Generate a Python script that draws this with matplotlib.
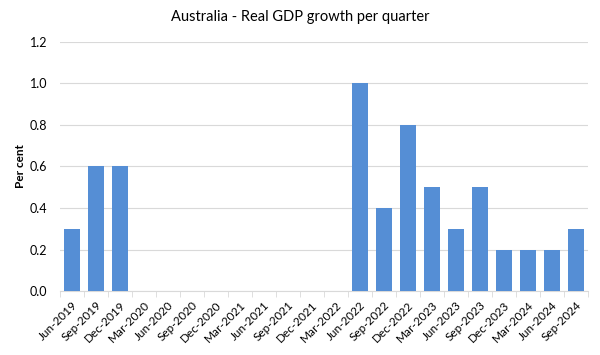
import numpy as np
import matplotlib.pyplot as plt

quarters = ["Jun-2019", "Sep-2019", "Dec-2019", "Mar-2020", "Jun-2020", "Sep-2020",
            "Dec-2020", "Mar-2021", "Jun-2021", "Sep-2021", "Dec-2021", "Mar-2022",
            "Jun-2022", "Sep-2022", "Dec-2022", "Mar-2023", "Jun-2023", "Sep-2023",
            "Dec-2023", "Mar-2024", "Jun-2024", "Sep-2024"]
# pandemic quarters are left blank in the source chart
growth = [0.3, 0.6, 0.6, None, None, None, None, None, None, None, None, None,
          1.0, 0.4, 0.8, 0.5, 0.3, 0.5, 0.2, 0.2, 0.2, 0.3]
yticks = [0.0, 0.2, 0.4, 0.6, 0.8, 1.0, 1.2]

plt.rcParams["font.family"] = ["Lato", "DejaVu Sans"]

fig = plt.figure(figsize=(6, 3.55), dpi=100)
ax = fig.add_axes([0.1, 0.18, 0.88, 0.702])

x = np.arange(len(quarters))
h = np.array([np.nan if v is None else v for v in growth], float)
ax.bar(x, np.nan_to_num(h), width=0.66, color="#558ED5", zorder=3)

ax.set_xlim(-0.5, len(quarters) - 0.5)
ax.set_ylim(0, 1.2)
ax.set_yticks(yticks)
ax.set_yticklabels([f"{v:.1f}" for v in yticks], fontsize=9)
ax.grid(axis="y", color="#d9d9d9", lw=0.8, zorder=0)

ax.set_xticks(x)
ax.set_xticklabels(quarters, rotation=45, ha="right", rotation_mode="anchor", fontsize=8.5)
ax.set_xticks(np.arange(-0.5, len(quarters)), minor=True)
ax.tick_params(axis="x", which="major", length=0, pad=6)
ax.tick_params(axis="x", which="minor", length=4, color="#d9d9d9")
ax.tick_params(axis="y", length=0, pad=9)

for s in ["top", "right", "left"]:
    ax.spines[s].set_visible(False)
ax.spines["bottom"].set_color("#d9d9d9")

ax.set_ylabel("Per cent", fontsize=8.5, fontweight="bold", labelpad=3)
fig.text(0.5, 0.952, "Australia - Real GDP growth per quarter", ha="center", va="center", fontsize=10.5)

fig.savefig("out.png", dpi=100)
